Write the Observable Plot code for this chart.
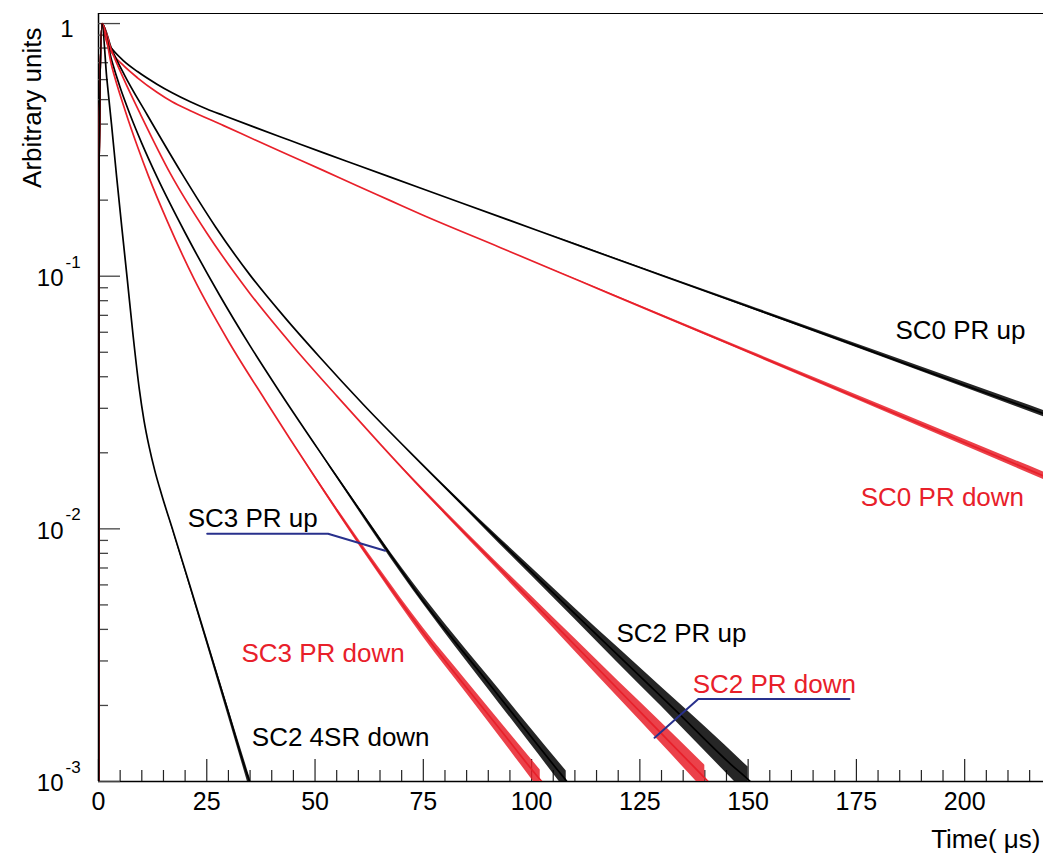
<!DOCTYPE html>
<html><head><meta charset="utf-8">
<script src="https://cdn.jsdelivr.net/npm/d3@7"></script>
<script src="https://cdn.jsdelivr.net/npm/@observablehq/plot@0.6"></script>
<style>body{margin:0;background:#fff}svg{display:block}</style>
</head><body><div id="chart"></div>
<script>
// [time (µs), arbitrary units]
const sc0Up = [[0,0.0005],[0.15,0.3],[0.8,1],[1.5,0.9016],[2.3,0.83],[3.5,0.78],[5.8,0.712],[9,0.6457],[13.5,0.5754],[17,0.532],[21.2,0.49],[25,0.459],[28.9,0.4325],[36.6,0.3855],[44.3,0.3443],[52,0.3076],[59.7,0.2754],[67.4,0.2466],[74.3,0.2234],[92.7,0.1718],[111,0.1321],[129.4,0.1016],[147.7,0.0783],[166.1,0.0603],[184.4,0.0463],[202.7,0.0356],[218.2,0.0286]];
const sc0Down = [[0,0.0005],[0.15,0.3],[0.8,1],[1.5,0.891],[2.3,0.809],[3.5,0.75],[5.8,0.681],[9,0.61],[13.5,0.5346],[17,0.49],[21.2,0.4519],[28.9,0.3945],[36.6,0.3436],[44.3,0.2999],[52,0.2618],[59.7,0.228],[67.4,0.1991],[74.3,0.1762],[92.7,0.13],[111,0.0959],[129.4,0.0706],[147.7,0.0522],[166.1,0.0385],[184.4,0.0284],[202.7,0.021],[218.2,0.0162]];
const sc2Up = [[0,0.0005],[0.15,0.3],[0.8,1],[3,0.796],[6,0.625],[11.2,0.4365],[19.3,0.254],[27,0.157],[35,0.101],[43,0.0687],[51,0.048],[61.2,0.031],[74.3,0.0183],[90,0.0099],[101.8,0.0063],[116.5,0.0036],[133,0.00193],[146,0.00117],[150.5,0.001],[152,0.00094]];
const sc2Down = [[0,0.0005],[0.15,0.3],[0.8,1],[3,0.783],[6,0.594],[9.6,0.4406],[16.6,0.2547],[25,0.1483],[35,0.0853],[45,0.0526],[55,0.0336],[65,0.0217],[74.3,0.01459],[92.7,0.00695],[111,0.00333],[125.7,0.00184],[136.7,0.00118],[141,0.00099],[142,0.00095]];
const sc3Up = [[0,0.0005],[0.15,0.3],[0.8,1],[3,0.719],[5,0.558],[7.3,0.4355],[10,0.3357],[13.5,0.2472],[20,0.1486],[28,0.0839],[35,0.053],[42,0.0345],[53.5,0.01758],[66.2,0.00845],[74.3,0.00536],[90,0.00246],[106,0.00111],[108.5,0.00098],[109,0.00095]];
const sc3Down = [[0,0.0005],[0.15,0.3],[0.8,1],[3,0.684],[6.2,0.4498],[9,0.326],[11.5,0.25],[16,0.1633],[22,0.098],[30,0.0553],[38.5,0.0323],[50,0.016],[61.2,0.00828],[74.3,0.00402],[92.7,0.00161],[101.5,0.00104],[103,0.00097]];
const sc2_4srDown = [[0,0.0005],[0.15,0.3],[0.8,1],[1.9,0.61],[3,0.4],[4.2,0.246],[5.4,0.155],[6.6,0.099],[8,0.058],[9.4,0.036],[10.5,0.0269],[11.7,0.0211],[13,0.017],[14.5,0.0138],[17.3,0.0097],[21.2,0.00589],[25.8,0.00324],[29.7,0.00195],[34.3,0.00107],[35.2,0.00097]];

// statistical-noise envelope of the tails, [time, low, high]
const sc0UpBand = [[100,0.1547,0.1547],[150,0.075,0.0767],[180,0.0485,0.0504],[218.2,0.0278,0.0294]];
const sc0DownBand = [[100,0.1151,0.1151],[150,0.0495,0.0509],[180,0.0299,0.0313],[218.2,0.01567,0.01679]];
const sc2UpBand = [[70,0.02178,0.02178],[90,0.00968,0.01014],[100,0.00652,0.00702],[110,0.00439,0.00485],[120,0.00294,0.00338],[130,0.00198,0.00236],[140,0.00132,0.00165],[150,0.00088,0.00114]];
const sc2DownBand = [[65,0.02168,0.02168],[80,0.01138,0.0118],[90,0.00753,0.00796],[100,0.00498,0.00541],[110,0.00328,0.00368],[120,0.00215,0.0025],[130,0.00141,0.00171],[140,0.00092,0.00116]];
const sc3UpBand = [[45,0.02897,0.02897],[60,0.01186,0.0123],[70,0.00662,0.00703],[80,0.00387,0.00421],[90,0.00232,0.00261],[100,0.00139,0.00161],[108,0.00092,0.0011]];
const sc3DownBand = [[42,0.02606,0.02606],[55,0.0117,0.01213],[65,0.00652,0.00692],[75,0.00372,0.00405],[85,0.00223,0.0025],[95,0.00133,0.00155],[102,0.00092,0.00111]];
const sc2_4srBand = [[15,0.01297,0.01297],[20,0.00678,0.00697],[25.8,0.00315,0.00333],[30,0.0018,0.00195],[35,0.00092,0.00103]];

const seriesNames = ["SC0 PR up","SC0 PR down","SC2 PR up","SC2 PR down","SC3 PR up","SC3 PR down","SC2 4SR down"];
const seriesData = [sc0Up, sc0Down, sc2Up, sc2Down, sc3Up, sc3Down, sc2_4srDown];
const seriesBands = [sc0UpBand, sc0DownBand, sc2UpBand, sc2DownBand, sc3UpBand, sc3DownBand, sc2_4srBand];
const seriesColors = ["black","red","black","red","black","red","black"];

// label anchor points (left edge, vertical centre) in data units
const labelT = [184.0, 176.0, 119.6, 137.2, 20.6, 33.0, 35.4];
const labelV = [0.0608, 0.01327, 0.00384, 0.00242, 0.01096, 0.00321, 0.00149];

// leader lines
const leaderSC3Up = [[25.1,0.00957],[53.0,0.00957],[66.2,0.00819]];
const leaderSC2Down = [[128.4,0.00149],[138.5,0.00212],[173.4,0.00212]];

const xDomain = [0, 218.2];
const yDomain = [0.001, 1.096];
const xTickLabels = [0,25,50,75,100,125,150,175,200];
const xMinorTicks = d3.range(5, 220, 5).filter(d => d % 25 !== 0);
const yMajorTicks = [0.001, 0.01, 0.1, 1];
const yExponents = ["-3","-2","-1"];
const yMinorTicks = [0.001,0.01,0.1].flatMap(p => d3.range(2,10).map(k => +(k*p).toPrecision(3)));

const RED = "#e8202a";
const colorMap = {black: "#000000", red: RED};

const rows = seriesNames.flatMap((name, i) =>
  seriesData[i].map(([t, v]) => ({name, t, v, color: colorMap[seriesColors[i]]})));
const bandRows = seriesNames.flatMap((name, i) =>
  seriesBands[i].map(([t, lo, hi]) => ({name, t, lo, hi, color: colorMap[seriesColors[i]]})));
const labels = seriesNames.map((name, i) => ({name, t: labelT[i], v: labelV[i], color: colorMap[seriesColors[i]]}));
const leaders = [
  ...leaderSC3Up.map(([t, v]) => ({g: "a", t, v})),
  ...leaderSC2Down.map(([t, v]) => ({g: "b", t, v}))
];

const FONT = "'Liberation Sans', Arial, Helvetica, sans-serif";

const chart = Plot.plot({
  width: 1043,
  height: 859,
  marginLeft: 98,
  marginRight: 0,
  marginTop: 13,
  marginBottom: 78,
  style: {fontFamily: FONT, background: "#fff"},
  x: {domain: xDomain, axis: null},
  y: {type: "log", domain: yDomain, axis: null},
  color: {type: "identity"},
  marks: [
    Plot.ruleX([0], {stroke: "#000", strokeWidth: 1.5}),
    Plot.ruleY([yDomain[0]], {stroke: "#000", strokeWidth: 1.5}),
    Plot.ruleY([yDomain[1]], {stroke: "#000", strokeWidth: 1.2}),
    Plot.ruleX(xTickLabels, {x: d => d, y1: yDomain[0], y2: yDomain[0], insetTop: -22, stroke: "#222", strokeWidth: 1.2}),
    Plot.ruleX(xMinorTicks, {x: d => d, y1: yDomain[0], y2: yDomain[0], insetTop: -11, stroke: "#222", strokeWidth: 1.2}),
    Plot.ruleY(yMajorTicks, {y: d => d, x1: 0, x2: 0, insetRight: -22, stroke: "#444", strokeWidth: 1.3}),
    Plot.ruleY(yMinorTicks, {y: d => d, x1: 0, x2: 0, insetRight: -10, stroke: "#444", strokeWidth: 1.3}),
    Plot.areaY(bandRows, {x: "t", y1: "lo", y2: "hi", z: "name", fill: "color", fillOpacity: 0.85, curve: "monotone-x", clip: true}),
    Plot.line(rows, {x: "t", y: "v", z: "name", stroke: "color", strokeWidth: 1.7, curve: "monotone-x", clip: true}),
    Plot.line(leaders, {x: "t", y: "v", z: "g", stroke: "#28308c", strokeWidth: 2}),
    Plot.text(labels, {x: "t", y: "v", text: "name", fill: "color", textAnchor: "start", fontSize: 26, lineAnchor: "middle"}),
    Plot.text(xTickLabels, {x: d => d, frameAnchor: "bottom", dy: 28, text: d => String(d), fontSize: 25, fill: "#000"}),
    Plot.text([1], {y: d => d, frameAnchor: "left", dx: -25, dy: 6, text: d => "1", textAnchor: "end", fontSize: 24, fill: "#000"}),
    Plot.text(yMajorTicks.slice(0, 3), {y: d => d, frameAnchor: "left", dx: -35, dy: 2, text: d => "10", textAnchor: "end", fontSize: 24, fill: "#000"}),
    Plot.text(yMajorTicks.slice(0, 3), {y: d => d, frameAnchor: "left", dx: -33, dy: -14, text: (d, i) => yExponents[i], textAnchor: "start", fontSize: 17, fill: "#000"}),
    Plot.text(["Time( \u03bcs)"], {frameAnchor: "bottom-right", dx: -3, dy: 66, text: d => d, textAnchor: "end", fontSize: 26, fill: "#000"}),
    Plot.text(["Arbitrary units"], {frameAnchor: "top-left", dx: -76, dy: 14, rotate: -90, text: d => d, textAnchor: "end", fontSize: 26, fill: "#000"})
  ]
});
document.getElementById("chart").appendChild(chart);
</script>
</body></html>
